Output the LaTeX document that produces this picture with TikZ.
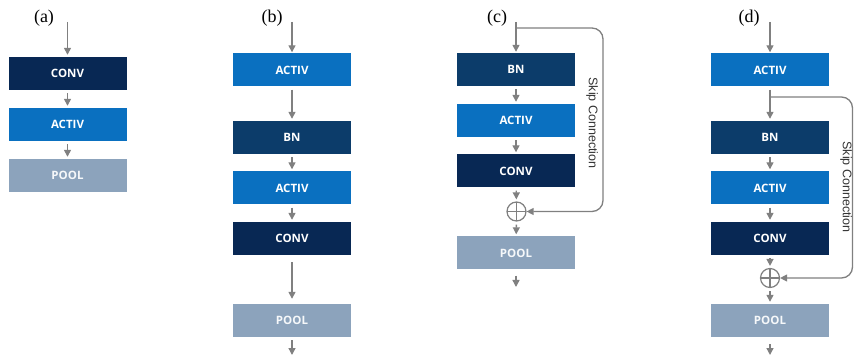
\documentclass[tikz,border=0pt]{standalone}
\usepackage{fontspec}
\setmainfont{Liberation Serif}
\newfontfamily\boxfont{Open Sans}
\newfontfamily\skipfont{Liberation Sans}
\usetikzlibrary{arrows.meta}
\definecolor{convcol}{RGB}{8,40,84}
\definecolor{bncol}{RGB}{12,60,106}
\definecolor{activcol}{RGB}{10,112,192}
\definecolor{poolcol}{RGB}{140,163,188}
\definecolor{linecol}{RGB}{128,128,128}
\tikzset{
  layer/.style={rectangle, minimum width=118pt, minimum height=33pt, inner sep=0pt,
    text=white, font=\boxfont\bfseries\fontsize{11.5}{13}\selectfont},
  conv/.style={layer, fill=convcol},
  bn/.style={layer, fill=bncol},
  activ/.style={layer, fill=activcol},
  pool/.style={layer, fill=poolcol, text=white!92!poolcol},
  flow/.style={draw=linecol, line width=1.4pt, -{Triangle[length=7pt,width=7pt]}},
  gap/.style={shorten <=3pt, shorten >=2pt},
  skipline/.style={draw=linecol, line width=1.3pt, rounded corners=11pt, -{Triangle[length=7pt,width=7pt]}},
  addop/.style={circle, draw=linecol, line width=1.2pt, minimum size=19pt, inner sep=0pt,
    path picture={\draw[linecol, line width=1.2pt]
      (path picture bounding box.north) -- (path picture bounding box.south)
      (path picture bounding box.west) -- (path picture bounding box.east);}},
  panel/.style={font=\fontsize{18}{20}\selectfont},
  skiptext/.style={font=\skipfont\fontsize{12.5}{14}\selectfont, rotate=-90, text=black!80}
}
\begin{document}
\begin{tikzpicture}[x=1pt,y=-1pt]
\useasboundingbox (0,0) rectangle (854,355);

% ---------- (a) ----------
\node[panel] (la) at (44,18) {(a)};
\coordinate (ain) at (67.5,22);
\node[conv]  (a1) at (67.5,73.5)  {CONV};
\node[activ] (a2) at (67.5,124.5) {ACTIV};
\node[pool]  (a3) at (67.5,175.5) {POOL};
\draw[flow,shorten >=2pt] (ain) -- (a1);
\draw[flow,gap] (a1) -- (a2);
\draw[flow,gap] (a2) -- (a3);

% ---------- (b) ----------
\node[panel] (lb) at (272,18) {(b)};
\coordinate (bin) at (292,22);
\node[activ] (b1) at (292,70)    {ACTIV};
\node[bn]    (b2) at (292,137.5) {BN};
\node[activ] (b3) at (292,188)   {ACTIV};
\node[conv]  (b4) at (292,238.5) {CONV};
\node[pool]  (b5) at (292,320.5) {POOL};
\coordinate (bout) at (292,355);
\draw[flow,shorten >=1pt] (bin) -- (b1);
\draw[flow,gap] (b1) -- (b2);
\draw[flow,gap] (b2) -- (b3);
\draw[flow,gap] (b3) -- (b4);
\draw[flow,shorten <=7pt,shorten >=5pt] (b4) -- (b5);
\draw[flow,shorten <=3pt] (b5) -- (bout);

% ---------- (c) ----------
\node[panel] (lc) at (497,18) {(c)};
\coordinate (cin) at (516,22);
\coordinate (cbranch) at (516,28);
\node[bn]    (c1) at (516,69.5)  {BN};
\node[activ] (c2) at (516,120.5) {ACTIV};
\node[conv]  (c3) at (516,171)   {CONV};
\node[addop] (cadd) at (516.5,211.5) {};
\node[pool]  (c4) at (516,253)   {POOL};
\coordinate (cout) at (516,287);
\draw[flow,shorten >=1pt] (cin) -- (c1);
\draw[flow,gap] (c1) -- (c2);
\draw[flow,gap] (c2) -- (c3);
\draw[flow,gap] (c3) -- (cadd);
\draw[flow,gap] (cadd) -- (c4);
\draw[flow,shorten <=6pt] (c4) -- (cout);
\draw[skipline] (cbranch) -- (603,28) -- (603,211.5) -- (cadd.east);
\node[skiptext] (cskip) at (592,123) {Skip Connection};

% ---------- (d) ----------
\node[panel] (ld) at (749,18) {(d)};
\coordinate (din) at (770,22);
\node[activ] (d1) at (770,70)    {ACTIV};
\coordinate (dbranch) at (770,97);
\node[bn]    (d2) at (770,137.5) {BN};
\node[activ] (d3) at (770,188)   {ACTIV};
\node[conv]  (d4) at (770,238.5) {CONV};
\node[addop] (dadd) at (770,278) {};
\node[pool]  (d5) at (770,320.5) {POOL};
\coordinate (dout) at (770,355);
\draw[flow,shorten >=1pt] (din) -- (d1);
\draw[flow,gap] (d1) -- (d2);
\draw[flow,gap] (d2) -- (d3);
\draw[flow,gap] (d3) -- (d4);
\draw[flow,gap] (d4) -- (dadd);
\draw[flow,gap] (dadd) -- (d5);
\draw[flow,shorten <=7pt] (d5) -- (dout);
\draw[skipline] (dbranch) -- (852.5,97) -- (852.5,278) -- (dadd.east);
\node[skiptext] (dskip) at (846,187) {Skip Connection};
\end{tikzpicture}
\end{document}
